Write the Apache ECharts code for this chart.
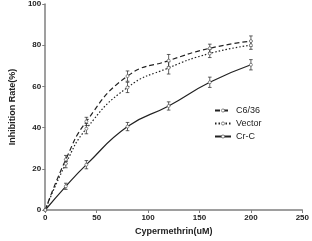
<!DOCTYPE html>
<html>
<head>
<meta charset="utf-8">
<script src="https://cdn.jsdelivr.net/npm/echarts@6/dist/echarts.min.js"></script>
<style>
  html, body { margin: 0; padding: 0; background: #fff; }
  #chart { width: 312px; height: 241px; }
</style>
</head>
<body>
<div id="chart"></div>
<script>
// doses (uM) and mean inhibition rate (%), with error (+/-)
var doses = [0, 20, 40, 80, 120, 160, 200];
var c636 = [0, 24.5, 43, 65, 72.5, 78.5, 82];
var c636Err = [0, 2, 2, 2.5, 3, 2, 2.5];
var vector = [0, 22.5, 39.5, 59.5, 69, 76, 80];
var vectorErr = [0, 2, 2.5, 2.5, 3, 2, 2];
var crc = [0, 11.5, 22, 40.5, 50.5, 62, 70.5];
var crcErr = [0, 1.5, 2, 2, 2, 2.5, 2.5];

var xTicks = [0, 50, 100, 150, 200, 250];
var yTicks = [0, 20, 40, 60, 80, 100];

var lineColor = '#222';
var axisColor = '#7f7f7f';

function pairs(vals) {
    return doses.map(function (d, i) { return [d, vals[i]]; });
}
function errData(vals, errs) {
    var out = [];
    for (var i = 1; i < doses.length; i++) {
        out.push([doses[i], vals[i] - errs[i], vals[i] + errs[i]]);
    }
    return out;
}
function renderErr(params, api) {
    var x = api.value(0);
    var lo = api.coord([x, api.value(1)]);
    var hi = api.coord([x, api.value(2)]);
    var w = 1.8;
    var st = { stroke: lineColor, lineWidth: 0.7 };
    return {
        type: 'group',
        children: [
            { type: 'line', shape: { x1: lo[0], y1: lo[1], x2: hi[0], y2: hi[1] }, style: st },
            { type: 'line', shape: { x1: lo[0] - w, y1: lo[1], x2: lo[0] + w, y2: lo[1] }, style: st },
            { type: 'line', shape: { x1: hi[0] - w, y1: hi[1], x2: hi[0] + w, y2: hi[1] }, style: st }
        ]
    };
}
function lineSeries(name, vals, type) {
    return {
        name: name,
        type: 'line',
        data: pairs(vals),
        smooth: 0.5,
        symbol: 'circle',
        symbolSize: 3,
        itemStyle: { color: '#fff', borderColor: '#444', borderWidth: 0.6 },
        lineStyle: { color: lineColor, width: 1.2, type: type },
        z: 3
    };
}
function errSeries(vals, errs) {
    return {
        type: 'custom',
        renderItem: renderErr,
        data: errData(vals, errs),
        encode: { x: 0, y: [1, 2] },
        silent: true,
        z: 2
    };
}

var chart = echarts.init(document.getElementById('chart'), null, { renderer: 'canvas' });
chart.setOption({
    animation: false,
    textStyle: { fontFamily: 'Liberation Sans' },
    grid: { left: 29, right: 7, top: 4, bottom: 24.5, containLabel: false },
    legend: {
        orient: 'vertical',
        left: 209,
        top: 101,
        itemWidth: 16,
        itemHeight: 4,
        itemGap: 4,
        itemStyle: { borderWidth: 0.6 },
        textStyle: { fontSize: 9, color: '#222', fontFamily: 'Liberation Sans' },
        data: ['C6/36', 'Vector', 'Cr-C']
    },
    xAxis: {
        type: 'value',
        min: 0, max: 250, interval: 50,
        name: 'Cypermethrin(uM)',
        nameLocation: 'middle',
        nameGap: 17,
        nameTextStyle: { fontSize: 9, fontWeight: 'bold', color: '#222' },
        axisLine: { lineStyle: { color: axisColor, width: 1.5 } },
        axisTick: { length: 3, lineStyle: { color: axisColor } },
        axisLabel: { fontSize: 8, fontWeight: 'bold', color: '#222', margin: 4,
            formatter: function (v) { return xTicks.indexOf(v) >= 0 ? String(v) : ''; } },
        splitLine: { show: false }
    },
    yAxis: {
        type: 'value',
        min: 0, max: 100, interval: 20,
        name: 'Inhibition Rate(%)',
        nameLocation: 'middle',
        nameGap: 23,
        nameTextStyle: { fontSize: 9, fontWeight: 'bold', color: '#222' },
        axisLine: { show: true, lineStyle: { color: axisColor, width: 1.5 } },
        axisTick: { show: true, length: 3, lineStyle: { color: axisColor } },
        axisLabel: { fontSize: 8, fontWeight: 'bold', color: '#222', margin: 4,
            formatter: function (v) { return yTicks.indexOf(v) >= 0 ? String(v) : ''; } },
        splitLine: { show: false }
    },
    series: [
        lineSeries('C6/36', c636, [5, 3]),
        lineSeries('Vector', vector, [1.5, 2]),
        lineSeries('Cr-C', crc, 'solid'),
        errSeries(c636, c636Err),
        errSeries(vector, vectorErr),
        errSeries(crc, crcErr)
    ]
});
</script>
</body>
</html>
